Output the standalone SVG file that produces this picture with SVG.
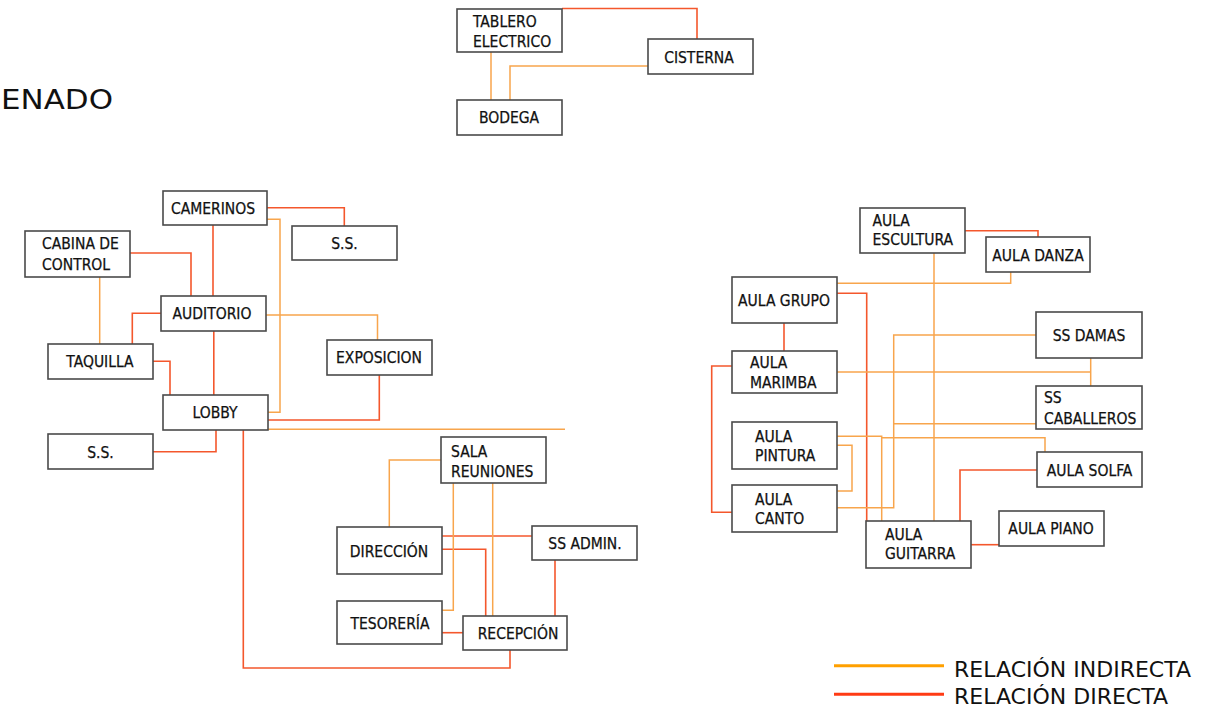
<svg xmlns="http://www.w3.org/2000/svg" width="1228" height="708" viewBox="0 0 1228 708">
<style>
.box rect{fill:#fff;stroke:#4a4a4a;stroke-width:1.6}
.box text{font-family:"DejaVu Sans Condensed","Liberation Sans",sans-serif;font-size:15.5px;fill:#111;stroke:#111;stroke-width:0.25}
.c{text-anchor:middle}
.o{fill:none;stroke:#f8a54c;stroke-width:1.5}
.r{fill:none;stroke:#f4572c;stroke-width:1.6}
.thin{font-family:"DejaVu Sans","Liberation Sans",sans-serif;fill:#111}
</style>
<rect width="1228" height="708" fill="#fff"/>
<text class="thin" x="1" y="109" font-size="26.5" textLength="112" lengthAdjust="spacingAndGlyphs">ENADO</text>

<g id="connectors">
<path class="r" d="M562,8.5 H697 V39"/>
<path class="o" d="M491,52 V100"/>
<path class="o" d="M510,100 V66 H648"/>
<path class="r" d="M267,207.7 H344.3 V226"/>
<path class="o" d="M267,219.3 H280 V412.3 H268"/>
<path class="r" d="M213,225 V296"/>
<path class="r" d="M130,253 H191 V296"/>
<path class="o" d="M99.7,277 V344"/>
<path class="r" d="M161,313.3 H132.3 V344"/>
<path class="r" d="M153,361.3 H170 V395"/>
<path class="r" d="M213.8,331 V395"/>
<path class="o" d="M266,315 H377.5 V340"/>
<path class="r" d="M379.3,375 V420 H268"/>
<path class="o" d="M268,429.3 H565"/>
<path class="r" d="M216,430 V451.7 H153"/>
<path class="r" d="M243.3,430 V668 H510 V650"/>
<path class="o" d="M441,460 H389.3 V527"/>
<path class="r" d="M442,536 H532"/>
<path class="r" d="M442,549.3 H485.7 V616"/>
<path class="o" d="M453.3,483 V610.3 H442"/>
<path class="o" d="M492.7,483 V616"/>
<path class="r" d="M555,560 V616"/>
<path class="r" d="M442,632.7 H463"/>
<path class="r" d="M965,230.7 H1038 V237"/>
<path class="o" d="M837,283.3 H1010.7 V272"/>
<path class="r" d="M837,293.3 H866.7 V521"/>
<path class="r" d="M784,323 V351"/>
<path class="r" d="M732,366 H711.7 V512.3 H732"/>
<path class="o" d="M1036,335 H893.7 V507.7 H837"/>
<path class="o" d="M934,253 V521"/>
<path class="o" d="M837,372 H1090.7"/>
<path class="o" d="M1090.7,358 V386"/>
<path class="o" d="M1036,423.7 H893.7"/>
<path class="o" d="M837,436.3 H881.7 V521"/>
<path class="o" d="M881.7,437.7 H1045 V452"/>
<path class="o" d="M837,445.3 H852 V491 H837"/>
<path class="r" d="M1037,470 H960 V521"/>
<path class="r" d="M971,544.7 H999"/>
</g>

<g id="tablero" class="box"><rect x="457" y="9" width="105" height="43"/><text x="473" y="26.5">TABLERO</text><text x="473" y="46.5">ELECTRICO</text></g>
<g id="cisterna" class="box"><rect x="648" y="39" width="105" height="35"/><text class="c" x="699" y="62.5">CISTERNA</text></g>
<g id="bodega" class="box"><rect x="457" y="100" width="105" height="35"/><text class="c" x="509" y="122.5">BODEGA</text></g>
<g id="camerinos" class="box"><rect x="163" y="191" width="104" height="34"/><text class="c" x="213" y="213.5">CAMERINOS</text></g>
<g id="ss-top" class="box"><rect x="292" y="226" width="105" height="34"/><text class="c" x="344.5" y="248.5">S.S.</text></g>
<g id="cabina" class="box"><rect x="25" y="231" width="105" height="46"/><text x="42" y="249">CABINA DE</text><text x="42" y="269.5">CONTROL</text></g>
<g id="auditorio" class="box"><rect x="161" y="296" width="105" height="35"/><text class="c" x="212" y="319">AUDITORIO</text></g>
<g id="taquilla" class="box"><rect x="48" y="344" width="105" height="35"/><text class="c" x="100" y="366.5">TAQUILLA</text></g>
<g id="exposicion" class="box"><rect x="327" y="340" width="105" height="35"/><text class="c" x="379" y="362.5">EXPOSICION</text></g>
<g id="lobby" class="box"><rect x="163" y="395" width="105" height="35"/><text class="c" x="215" y="417.5">LOBBY</text></g>
<g id="ss-left" class="box"><rect x="48" y="434" width="105" height="35"/><text class="c" x="100.5" y="457.5">S.S.</text></g>
<g id="sala" class="box"><rect x="441" y="437" width="105" height="46"/><text x="451" y="456.5">SALA</text><text x="451" y="476.5">REUNIONES</text></g>
<g id="direccion" class="box"><rect x="337" y="527" width="105" height="47"/><text class="c" x="389" y="556.5">DIRECCIÓN</text></g>
<g id="ssadmin" class="box"><rect x="532" y="526" width="105" height="34"/><text class="c" x="585" y="548.5">SS ADMIN.</text></g>
<g id="tesoreria" class="box"><rect x="337" y="601" width="105" height="43"/><text class="c" x="390" y="628.5">TESORERÍA</text></g>
<g id="recepcion" class="box"><rect x="463" y="616" width="104" height="34"/><text class="c" x="518" y="638.5">RECEPCIÓN</text></g>
<g id="escultura" class="box"><rect x="860" y="208" width="105" height="45"/><text x="872.5" y="225.5">AULA</text><text x="872.5" y="245">ESCULTURA</text></g>
<g id="danza" class="box"><rect x="986" y="237" width="104" height="35"/><text class="c" x="1038" y="260.5">AULA DANZA</text></g>
<g id="grupo" class="box"><rect x="732" y="277" width="105" height="46"/><text class="c" x="784" y="305.5">AULA GRUPO</text></g>
<g id="marimba" class="box"><rect x="732" y="351" width="105" height="42"/><text x="750" y="368">AULA</text><text x="750" y="387.5">MARIMBA</text></g>
<g id="damas" class="box"><rect x="1036" y="312" width="106" height="46"/><text class="c" x="1089" y="340.5">SS DAMAS</text></g>
<g id="caballeros" class="box"><rect x="1036" y="386" width="106" height="43"/><text x="1044" y="403">SS</text><text x="1044" y="423.5">CABALLEROS</text></g>
<g id="pintura" class="box"><rect x="732" y="422" width="105" height="47"/><text x="755" y="441.5">AULA</text><text x="755" y="461">PINTURA</text></g>
<g id="canto" class="box"><rect x="732" y="485" width="105" height="47"/><text x="755" y="504.5">AULA</text><text x="755" y="524">CANTO</text></g>
<g id="solfa" class="box"><rect x="1037" y="452" width="105" height="35"/><text class="c" x="1089.5" y="475.5">AULA SOLFA</text></g>
<g id="guitarra" class="box"><rect x="866" y="521" width="105" height="47"/><text x="885" y="539.5">AULA</text><text x="885" y="559">GUITARRA</text></g>
<g id="piano" class="box"><rect x="999" y="511" width="105" height="35"/><text class="c" x="1051" y="534">AULA PIANO</text></g>

<g id="legend">
<path d="M834,665.7 H944" stroke="#ffa000" stroke-width="3"/>
<path d="M834,694.3 H944" stroke="#ff3b14" stroke-width="3"/>
<text class="thin" x="954" y="677" font-size="21" textLength="237" lengthAdjust="spacingAndGlyphs">RELACIÓN INDIRECTA</text>
<text class="thin" x="954" y="704" font-size="21" textLength="214" lengthAdjust="spacingAndGlyphs">RELACIÓN DIRECTA</text>
</g>
</svg>
